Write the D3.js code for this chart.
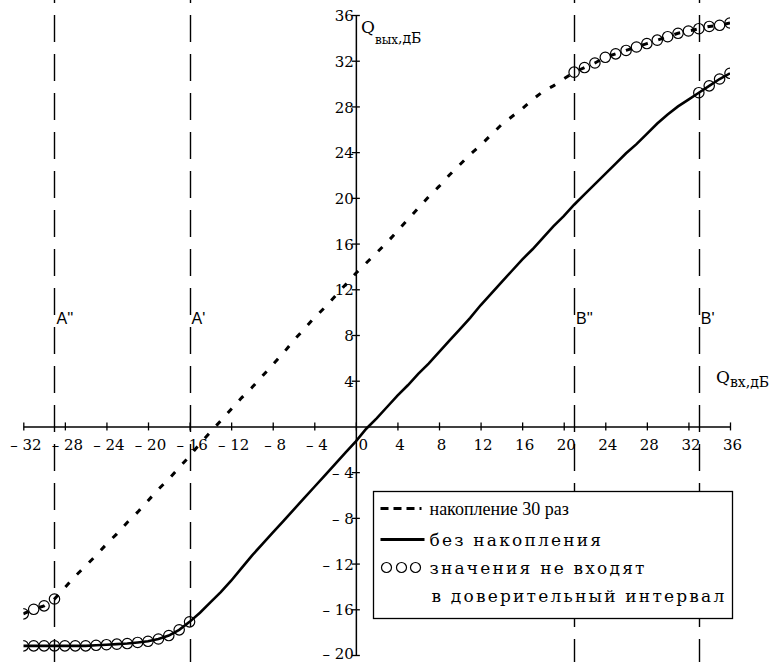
<!DOCTYPE html>
<html>
<head>
<meta charset="utf-8">
<script src="https://cdn.jsdelivr.net/npm/d3@7/dist/d3.min.js"></script>
<style>
  body { margin: 0; background: #fff; }
  svg { display: block; }
  .wide { font-family: 'DejaVu Serif', serif; }
  .narrow { font-family: 'Liberation Serif', 'Times New Roman', serif; }
  .sans { font-family: 'Liberation Sans', Arial, sans-serif; }
</style>
</head>
<body>
<script>
const width = 781
const height = 662

// input SNR, dB (one sample per dB)
const qIn = [
  -32, -31, -30, -29, -28, -27, -26, -25, -24, -23, -22, -21, -20, -19, -18, -17, -16,
  -15, -14, -13, -12, -11, -10, -9, -8, -7, -6, -5, -4, -3, -2, -1, 0,
  1, 2, 3, 4, 5, 6, 7, 8, 9, 10, 11, 12, 13, 14, 15, 16,
  17, 18, 19, 20, 21, 22, 23, 24, 25, 26, 27, 28, 29, 30, 31, 32, 33, 34, 35, 36
]

// output SNR with 30x accumulation
const accumulated = [
  -16.4, -16.0, -15.7, -15.1, -14.1, -13.1, -12.2, -11.3, -10.3, -9.4, -8.4, -7.5, -6.5, -5.5, -4.6, -3.6, -2.6,
  -1.5, -0.5, 0.5, 1.5, 2.5, 3.4, 4.4, 5.4, 6.4, 7.5, 8.5, 9.5, 10.4, 11.4, 12.4, 13.4,
  14.3, 15.2, 16.1, 17.1, 18.1, 19.1, 20.1, 21.0, 22.0, 22.9, 23.8, 24.6, 25.5, 26.4, 27.1, 27.8,
  28.6, 29.3, 29.8, 30.4, 31.0, 31.4, 31.8, 32.3, 32.6, 32.9, 33.2, 33.5, 33.8, 34.1, 34.4, 34.6, 34.8, 35.0, 35.1, 35.3
]

// output SNR without accumulation
const single = [
  -19.2, -19.2, -19.2, -19.2, -19.2, -19.2, -19.2, -19.15, -19.1, -19.05, -19.0, -18.9, -18.8, -18.6, -18.3, -17.8, -17.1,
  -16.3, -15.4, -14.5, -13.5, -12.4, -11.3, -10.3, -9.3, -8.3, -7.3, -6.3, -5.3, -4.3, -3.3, -2.3, -1.3,
  -0.2, 0.7, 1.7, 2.7, 3.6, 4.6, 5.5, 6.5, 7.5, 8.5, 9.5, 10.6, 11.6, 12.6, 13.6, 14.6,
  15.5, 16.5, 17.5, 18.4, 19.4, 20.3, 21.2, 22.1, 23.0, 23.9, 24.7, 25.6, 26.5, 27.3, 28.0, 28.6, 29.2, 29.8, 30.4, 30.9
]

// inputs whose value falls outside the confidence interval
const accumulatedOut = [-32, -31, -30, -29, 21, 22, 23, 24, 25, 26, 27, 28, 29, 30, 31, 32, 33, 34, 35, 36]
const singleOut = [-32, -31, -30, -29, -28, -27, -26, -25, -24, -23, -22, -21, -20, -19, -18, -17, -16, 33, 34, 35, 36]

const boundNames = ["A''", "A'", "B''", "B'"]
const boundValues = [-29, -16, 21, 33]

const xTicks = [-32, -28, -24, -20, -16, -12, -8, -4, 0, 4, 8, 12, 16, 20, 24, 28, 32, 36]
const yTicks = [-20, -16, -12, -8, -4, 4, 8, 12, 16, 20, 24, 28, 32, 36]

const legendLabels = ['накопление 30 раз', 'без накопления', 'значения не входят', 'в доверительный интервал']

const x = d3.scaleLinear().domain([-32, 36]).range([23.3, 730])
const y = d3.scaleLinear().domain([-20, 36]).range([655, 15])

const fmt = (d) => (d < 0 ? '\u2013 ' + Math.abs(d) : String(d))

const svg = d3.select('body').append('svg')
  .attr('width', width)
  .attr('height', height)
  .attr('viewBox', [0, 0, width, height])

svg.append('defs').append('clipPath')
  .attr('id', 'plot')
  .append('rect')
  .attr('x', x(-32))
  .attr('y', 0)
  .attr('width', x(36) - x(-32))
  .attr('height', height)

// boundary markers
const bounds = svg.append('g')
bounds.selectAll('line')
  .data(boundValues)
  .join('line')
  .attr('x1', (d) => Math.round(x(d)) + 0.5)
  .attr('x2', (d) => Math.round(x(d)) + 0.5)
  .attr('y1', 0)
  .attr('y2', height)
  .attr('stroke', '#000')
  .attr('stroke-width', 1.4)
  .attr('stroke-dasharray', '27,12')
  .attr('stroke-dashoffset', 24)
bounds.selectAll('text')
  .data(boundValues)
  .join('text')
  .attr('class', 'sans')
  .attr('x', (d) => x(d) + 2)
  .attr('y', 324)
  .attr('font-size', 16)
  .text((d, i) => boundNames[i])

// axes
const xAxis = svg.append('g')
  .attr('transform', `translate(0,${y(0)})`)
  .call(d3.axisBottom(x).tickValues(xTicks).tickFormat(fmt).tickSizeOuter(0))
  .attr('font-family', null)
xAxis.select('.domain').attr('stroke-width', 1.5)
xAxis.selectAll('.tick line').attr('y1', -4).attr('y2', 4).attr('stroke-width', 1.3)
xAxis.selectAll('.tick text')
  .attr('class', 'wide')
  .attr('font-size', 15)
  .attr('dy', null)
  .attr('y', 24)
  .attr('x', (d) => (d === 0 ? 7 : 2))

const yAxis = svg.append('g')
  .attr('transform', `translate(${x(0)},0)`)
  .call(d3.axisLeft(y).tickValues(yTicks).tickFormat(fmt).tickSizeOuter(0))
  .attr('font-family', null)
yAxis.select('.domain').attr('stroke-width', 1.5)
yAxis.selectAll('.tick line').attr('x1', -4).attr('x2', 4).attr('stroke-width', 1.3)
yAxis.selectAll('.tick text')
  .attr('class', 'wide')
  .attr('font-size', 15)
  .attr('dy', (d) => (d === -20 ? '0.2em' : '0.38em'))
  .attr('x', -2)

// axis titles
const xTitle = svg.append('text')
  .attr('class', 'wide')
  .attr('x', 716)
  .attr('y', 383)
  .attr('font-size', 17)
xTitle.append('tspan').text('Q')
xTitle.append('tspan').attr('dy', 4).attr('font-size', 14).text('вх,дБ')

const yTitle = svg.append('text')
  .attr('class', 'wide')
  .attr('x', 361)
  .attr('y', 33)
  .attr('font-size', 17)
yTitle.append('tspan').text('Q')
yTitle.append('tspan').attr('dy', 11).attr('font-size', 12).text('вых')
yTitle.append('tspan').attr('dy', -1).attr('font-size', 14).text(',дБ')

// curves
const plot = svg.append('g').attr('clip-path', 'url(#plot)')
const line = d3.line()
  .x((d) => x(d[0]))
  .y((d) => y(d[1]))

const accPoints = qIn.map((q, i) => [q, accumulated[i]])
const singlePoints = qIn.map((q, i) => [q, single[i]])

plot.append('path')
  .attr('d', line(accPoints))
  .attr('fill', 'none')
  .attr('stroke', '#000')
  .attr('stroke-width', 3)
  .attr('stroke-dasharray', '6,11')

plot.append('path')
  .attr('d', line(singlePoints))
  .attr('fill', 'none')
  .attr('stroke', '#000')
  .attr('stroke-width', 2.6)

const marks = plot.append('g')
  .attr('fill', 'none')
  .attr('stroke', '#000')
  .attr('stroke-width', 1.2)
marks.selectAll('circle.acc')
  .data(accPoints.filter((d) => accumulatedOut.includes(d[0])))
  .join('circle')
  .attr('class', 'acc')
  .attr('cx', (d) => x(d[0]))
  .attr('cy', (d) => y(d[1]))
  .attr('r', 5.2)
marks.selectAll('circle.single')
  .data(singlePoints.filter((d) => singleOut.includes(d[0])))
  .join('circle')
  .attr('class', 'single')
  .attr('cx', (d) => x(d[0]))
  .attr('cy', (d) => y(d[1]))
  .attr('r', 5.2)

// legend
const legend = svg.append('g').attr('transform', 'translate(373.5,491.5)')
legend.append('rect')
  .attr('width', 359)
  .attr('height', 127)
  .attr('fill', '#fff')
  .attr('stroke', '#000')
  .attr('stroke-width', 1.3)

const rowY = [17, 48, 76, 104]
legend.append('line')
  .attr('x1', 7).attr('x2', 48)
  .attr('y1', rowY[0]).attr('y2', rowY[0])
  .attr('stroke', '#000').attr('stroke-width', 3)
  .attr('stroke-dasharray', '8,5')
legend.append('line')
  .attr('x1', 7).attr('x2', 51)
  .attr('y1', rowY[1]).attr('y2', rowY[1])
  .attr('stroke', '#000').attr('stroke-width', 3)
legend.selectAll('circle')
  .data([13, 28, 42])
  .join('circle')
  .attr('cx', (d) => d)
  .attr('cy', rowY[2])
  .attr('r', 5)
  .attr('fill', 'none')
  .attr('stroke', '#000')
  .attr('stroke-width', 1.2)
legend.selectAll('text')
  .data(legendLabels)
  .join('text')
  .attr('class', (d, i) => (i === 0 ? 'narrow' : 'wide'))
  .attr('x', (d, i) => (i === 3 ? 58 : 56))
  .attr('y', (d, i) => rowY[i] + 6)
  .attr('font-size', (d, i) => (i === 0 ? 18 : 17))
  .attr('letter-spacing', (d, i) => (i === 0 ? 0 : 2.2))
  .text((d) => d)
</script>
</body>
</html>
